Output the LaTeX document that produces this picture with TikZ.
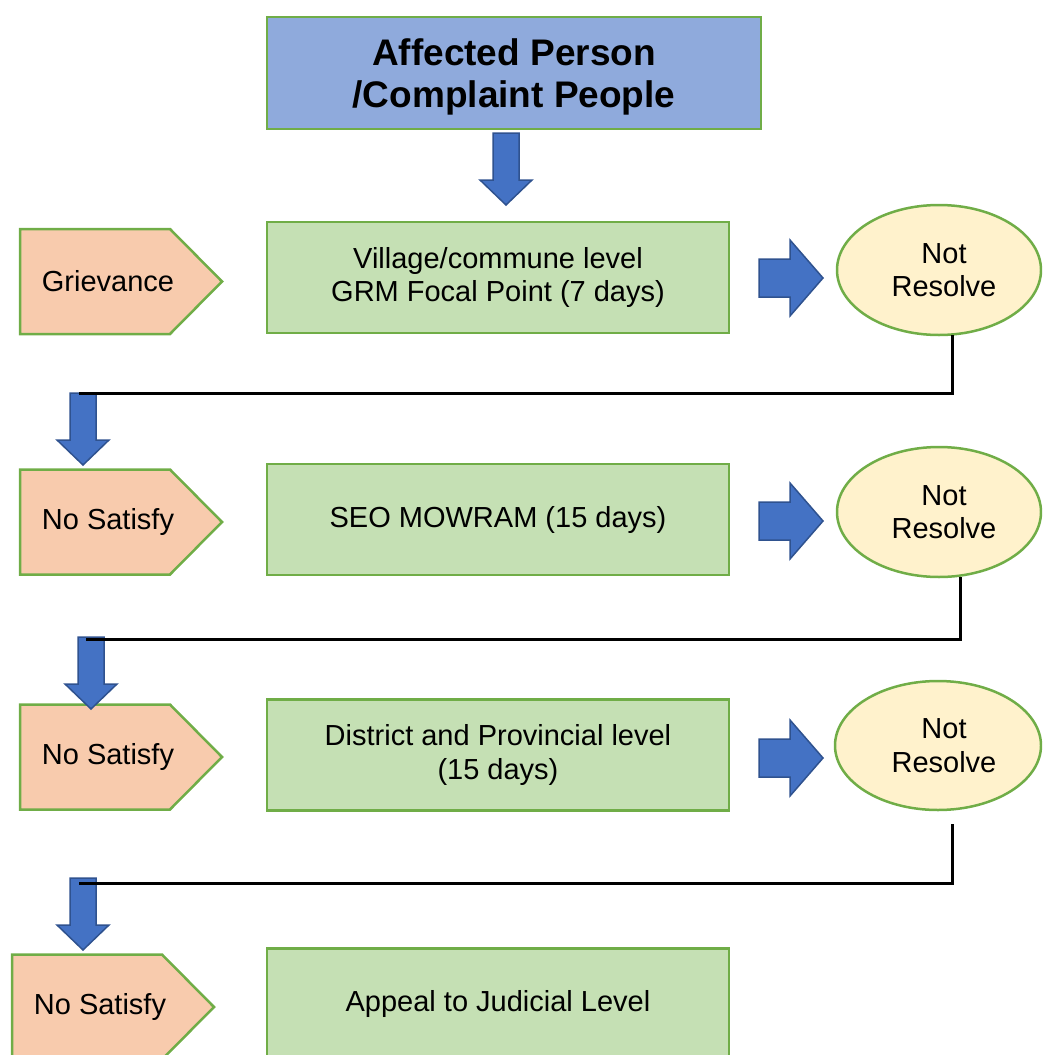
\documentclass[tikz,border=0pt]{standalone}
\usepackage{fontspec}
\setmainfont{Liberation Sans}
\usetikzlibrary{shapes.geometric}
\definecolor{topblue}{HTML}{8FAADC}
\definecolor{boxgreen}{HTML}{C5E0B4}
\definecolor{edgegreen}{HTML}{70AD47}
\definecolor{peach}{HTML}{F8CBAD}
\definecolor{cream}{HTML}{FFF2CC}
\definecolor{arrowblue}{HTML}{4472C4}
\definecolor{arrowedge}{HTML}{2F528F}
\tikzset{
  normaltext/.style={font=\fontsize{29}{33.5}\selectfont, align=center, text=black},
  topbox/.style={rectangle, draw=edgegreen, fill=topblue, line width=2.5pt, minimum width=494pt, minimum height=112pt, font=\fontsize{37}{42.5}\selectfont\bfseries, align=center},
  stagebox/.style={rectangle, draw=edgegreen, fill=boxgreen, line width=2.5pt, minimum width=462pt, minimum height=111pt, normaltext},
  notres/.style={ellipse, draw=edgegreen, fill=cream, line width=2.5pt, minimum width=204pt, minimum height=130pt, inner sep=0pt, normaltext},
  pentxt/.style={normaltext, inner sep=0pt},
  pentfill/.style={draw=edgegreen, fill=peach, line width=2.5pt, line join=miter},
  blockarrow/.style={draw=arrowedge, fill=arrowblue, line width=1.5pt, line join=miter},
  conn/.style={draw=black, line width=3pt},
  pentagon/.pic={\path[pentfill] (0,-52.5) -- (150,-52.5) -- (202,0) -- (150,52.5) -- (0,52.5) -- cycle;},
  downblk/.pic={\path[blockarrow] (-13,0) -- (13,0) -- (13,47) -- (26,47) -- (0,72) -- (-26,47) -- (-13,47) -- cycle;},
  rightblk/.pic={\path[blockarrow] (0,-19) -- (31,-19) -- (31,-38) -- (64,0) -- (31,38) -- (31,19) -- (0,19) -- cycle;}
}
\begin{document}
\begin{tikzpicture}[x=1pt, y=-1pt]
\useasboundingbox (0,0) rectangle (1042,1055);
\clip (0,0) rectangle (1042,1055);

% top box
\node[topbox] (top) at (514,73) {\rule{0pt}{35pt}Affected Person\\/Complaint People};

% stage boxes
\node[stagebox] (g1) at (498,277.5) {Village/commune level\\GRM Focal Point (7 days)};
\node[stagebox] (g2) at (498,519.5) {SEO MOWRAM (15 days)};
\node[stagebox] (g3) at (498,755) {District and Provincial level\\(15 days)};
\node[stagebox] (g4) at (498,1004) {Appeal to Judicial Level};

% pentagons
\pic at (20,281.5) {pentagon};
\node[pentxt] (p1) at (108,281.5) {Grievance};
\pic at (20,522) {pentagon};
\node[pentxt] (p2) at (108,522) {No Satisfy};
\pic at (20,757) {pentagon};
\node[pentxt] (p3) at (108,757) {No Satisfy};
\pic at (12,1007) {pentagon};
\node[pentxt] (p4) at (100,1007) {No Satisfy};

% ellipses
\node[notres] (e1) at (939,270) {\hspace*{10pt}Not\\\hspace*{10pt}Resolve};
\node[notres] (e2) at (939,512) {\hspace*{10pt}Not\\\hspace*{10pt}Resolve};
\node[notres, minimum width=206pt, minimum height=129pt] (e3) at (938,745.5) {\hspace*{12pt}Not\\\hspace*{12pt}Resolve};

% block arrows
\pic at (506,133) {downblk};
\pic at (759,278) {rightblk};
\pic at (759,521) {rightblk};
\pic at (759,758) {rightblk};
\pic at (83,393) {downblk};
\pic at (91,637) {downblk};
\pic at (83,878) {downblk};

% connectors
\coordinate (c1a) at (952,335);
\coordinate (c1b) at (79,393);
\coordinate (c2a) at (960,577);
\coordinate (c2b) at (86,639);
\coordinate (c3a) at (952,824);
\coordinate (c3b) at (79,883);
\draw[conn] (c1a) |- (c1b);
\draw[conn] (c2a) |- (c2b);
\draw[conn] (c3a) |- (c3b);
\end{tikzpicture}
\end{document}
